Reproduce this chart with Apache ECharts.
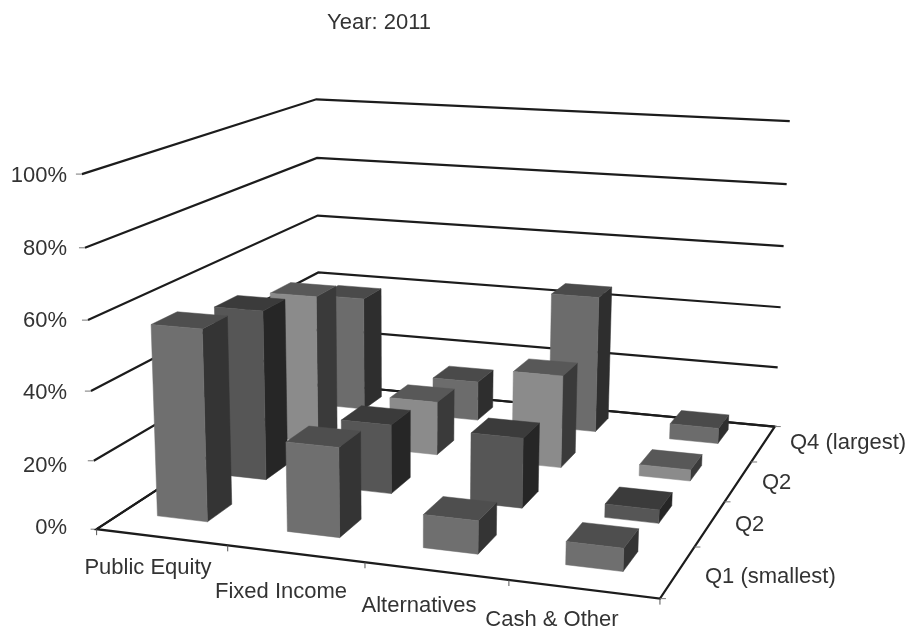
<!DOCTYPE html>
<html><head><meta charset="utf-8"><style>html,body{margin:0;background:#fff}#c{width:911px;height:628px}</style>
<script src="https://cdn.jsdelivr.net/npm/echarts@6/dist/echarts.min.js"></script></head>
<body><div id="c"></div><script>
const categories = ['Public Equity','Fixed Income','Alternatives','Cash & Other'];
const rowLabels = ['Q1 (smallest)','Q2','Q2','Q4 (largest)'];
const q1Values = [56,26,9.5,6.5];
const q2Values = [52,21,21,4];
const q3Values = [47.5,17,29,3.5];
const q4Values = [38,13,44.5,5];
const valueTicks = [0,20,40,60,80,100];
const tickLabels = ['0%','20%','40%','60%','80%','100%'];
const title = 'Year: 2011';

// camera calibration: box corner/wall positions on the page -> solved into a projection matrix
const calib = [
 [0,0,0,98,527],[1,0,0,660,602],[1,1,0,775,424],[0,1,0,318,388],
 [0,0,.2,96,459],[0,0,.4,90,391],[0,0,.6,88,320],[0,0,.8,83,248],[0,0,1,81,175],
 [0,1,.2,318,330],[0,1,.4,318,272],[0,1,.6,318,214],[0,1,.8,318,157],[0,1,1,318,99],
 [1,1,.2,778,366],[1,1,.4,781,307],[1,1,.6,783,245],[1,1,.8,786,185],[1,1,1,790,123]
];
function solveCamera(){
  const A=[],b=[];
  calib.forEach(([u,v,h,x,y])=>{
    A.push([u,v,h,1,0,0,0,0,-x*u,-x*v,-x*h]);b.push(x);
    A.push([0,0,0,0,u,v,h,1,-y*u,-y*v,-y*h]);b.push(y);
  });
  const n=11,M=[];
  for(let i=0;i<n;i++){M[i]=[];for(let j=0;j<n;j++){let s=0;A.forEach(r=>s+=r[i]*r[j]);M[i][j]=s;}
    let s=0;A.forEach((r,k)=>s+=r[i]*b[k]);M[i][n]=s;}
  for(let i=0;i<n;i++){let p=i;for(let k=i+1;k<n;k++)if(Math.abs(M[k][i])>Math.abs(M[p][i]))p=k;
    [M[i],M[p]]=[M[p],M[i]];
    for(let k=0;k<n;k++){if(k===i)continue;const f=M[k][i]/M[i][i];for(let j=i;j<=n;j++)M[k][j]-=f*M[i][j];}}
  return M.map((r,i)=>r[n]/r[i]);
}
const P=solveCamera();
function project(u,v,h){
  const w=P[8]*u+P[9]*v+P[10]*h+1;
  return [(P[0]*u+P[1]*v+P[2]*h+P[3])/w,(P[4]*u+P[5]*v+P[6]*h+P[7])/w];
}
const barW=0.39, barD=0.4, rowCentre=0.59, colCentre=0.465;
const rowStyles=[
 {front:'#6f6f6f',top:'#4e4e4e',side:'#343434'},
 {front:'#565656',top:'#3b3b3b',side:'#262626'},
 {front:'#8b8b8b',top:'#585858',side:'#3a3a3a'},
 {front:'#6c6c6c',top:'#4a4a4a',side:'#2e2e2e'}
];
const rows=[q1Values,q2Values,q3Values,q4Values];
function poly(api,pts,fill){
  return {type:'polygon',shape:{points:pts.map(p=>api.coord(p))},style:{fill:fill,stroke:fill,lineWidth:.5}};
}
function line(api,pts,color,w){
  return {type:'polyline',shape:{points:pts.map(p=>api.coord(p))},style:{fill:'none',stroke:color,lineWidth:w,lineJoin:'miter'}};
}
function barSeries(rowIdx){
  const st=rowStyles[rowIdx];
  return {type:'custom',coordinateSystem:'cartesian2d',clip:false,z:3+(3-rowIdx),silent:true,
    data:rows[rowIdx].map((v,i)=>[i,v]),encode:{x:0,y:1},
    renderItem(params,api){
      const i=api.value(0),h=api.value(1)/100;
      const u0=(i+colCentre-barW/2)/4,u1=(i+colCentre+barW/2)/4;
      const v0=(rowIdx+rowCentre-barD/2)/4,v1=(rowIdx+rowCentre+barD/2)/4;
      return {type:'group',children:[
        poly(api,[project(u1,v0,0),project(u1,v1,0),project(u1,v1,h),project(u1,v0,h)],st.side),
        poly(api,[project(u0,v0,h),project(u1,v0,h),project(u1,v1,h),project(u0,v1,h)],st.top),
        poly(api,[project(u0,v0,0),project(u1,v0,0),project(u1,v0,h),project(u0,v0,h)],st.front)
      ]};
    }};
}
const wallSeries={type:'custom',coordinateSystem:'cartesian2d',clip:false,z:1,silent:true,
  data:valueTicks.map(t=>[t,0]),encode:{x:0,y:1},
  renderItem(params,api){
    const h=api.value(0)/100;
    const a=project(0,0,h);
    return {type:'group',children:[
      line(api,[a,project(0,1,h),project(1,1,h)],'#1c1c1c',2.2),
      line(api,[[a[0]-6,a[1]],a],'#777',1)
    ]};
  }};
const floorSeries={type:'custom',coordinateSystem:'cartesian2d',clip:false,z:2,silent:true,
  data:[[0,0]],encode:{x:0,y:1},
  renderItem(params,api){
    const kids=[line(api,[project(0,1,0),project(0,0,0),project(1,0,0),project(1,1,0),project(0,1,0)],'#1c1c1c',2.2)];
    for(let k=0;k<=4;k++){
      const a=project(k/4,0,0);kids.push(line(api,[a,[a[0],a[1]+6]],'#555',1));
      const b=project(1,k/4,0);kids.push(line(api,[b,[b[0]+6,b[1]]],'#777',1));
    }
    return {type:'group',children:kids};
  }};
const font={fontFamily:'"Liberation Sans",Arial,sans-serif',fontSize:22,fill:'#333'};
const yText=tickLabels.map((t,i)=>{
  const y=[528,466,393,321,249,176][i];
  return {type:'text',x:67,y:y,style:{...font,text:t,textAlign:'right',textVerticalAlign:'middle'}};
});
const catCenters=[[148,568],[281,592],[419,606],[552,620]];
const catText=categories.map((t,i)=>({type:'text',x:catCenters[i][0],y:catCenters[i][1],style:{...font,text:t,textAlign:'center',textVerticalAlign:'middle'}}));
const rowLefts=[[705,577],[735,525],[762,483],[790,443]];
const rowText=rowLabels.map((t,i)=>({type:'text',x:rowLefts[i][0],y:rowLefts[i][1],style:{...font,text:t,textAlign:'left',textVerticalAlign:'middle'}}));
const chart=echarts.init(document.getElementById('c'),null,{renderer:'canvas'});
chart.setOption({
  animation:false,backgroundColor:'#fff',
  grid:{left:0,right:0,top:0,bottom:0},
  xAxis:{type:'value',min:0,max:911,show:false},
  yAxis:{type:'value',min:0,max:628,inverse:true,show:false},
  graphic:[...yText,...catText,...rowText,
    {type:'text',x:379,y:23,style:{...font,text:title,textAlign:'center',textVerticalAlign:'middle'}}],
  series:[wallSeries,floorSeries,barSeries(3),barSeries(2),barSeries(1),barSeries(0)]
});
</script></body></html>
